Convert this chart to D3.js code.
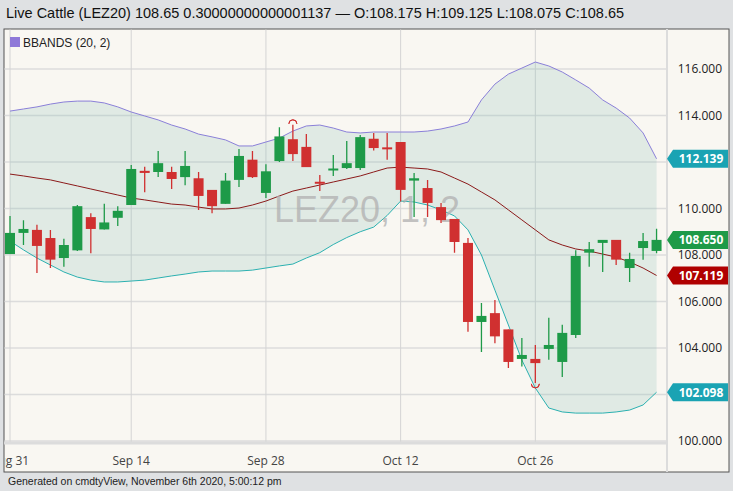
<!DOCTYPE html>
<html><head><meta charset="utf-8">
<script src="https://cdn.jsdelivr.net/npm/d3@7"></script>
<style>
body{margin:0;background:#dfe1e3;font-family:"Liberation Sans",Arial,sans-serif;}
</style></head><body>
<svg id="c" width="733" height="491"></svg>
<script>
var dates = ['2020-08-31','2020-09-01','2020-09-02','2020-09-03','2020-09-04','2020-09-08','2020-09-09','2020-09-10','2020-09-11',
  '2020-09-14','2020-09-15','2020-09-16','2020-09-17','2020-09-18','2020-09-21','2020-09-22','2020-09-23','2020-09-24','2020-09-25',
  '2020-09-28','2020-09-29','2020-09-30','2020-10-01','2020-10-02','2020-10-05','2020-10-06','2020-10-07','2020-10-08','2020-10-09',
  '2020-10-12','2020-10-13','2020-10-14','2020-10-15','2020-10-16','2020-10-19','2020-10-20','2020-10-21','2020-10-22','2020-10-23',
  '2020-10-26','2020-10-27','2020-10-28','2020-10-29','2020-10-30','2020-11-02','2020-11-03','2020-11-04','2020-11-05','2020-11-06'];
var open  = [108.04,108.95,109.08,108.73,107.87,108.2,109.63,109.1,109.6,110.15,111.62,111.57,111.57,111.35,111.3,110.8,110.2,111.23,112.1,110.67,112.04,112.98,112.65,111.15,111.65,111.74,111.74,113.0,112.63,112.86,111.2,110.88,110.06,109.55,108.52,105.12,105.5,104.8,103.53,103.53,103.96,103.4,104.56,108.1,108.52,108.65,107.44,108.3,108.175];
var high  = [109.68,109.5,109.3,109.08,108.7,110.15,109.8,110.2,110.1,111.87,111.8,112.47,111.8,112.47,111.57,110.8,111.53,112.56,112.47,111.9,113.5,113.6,113.2,111.44,112.3,112.9,113.16,113.25,113.25,112.86,111.53,111.23,110.24,109.55,108.73,105.94,106.06,104.8,104.43,104.13,105.3,105.0,108.2,108.56,108.65,108.65,108.1,108.95,109.125];
var low   = [108.04,108.43,107.23,107.44,107.5,108.17,108.08,109.1,109.25,110.15,110.7,111.35,110.84,111.0,109.94,109.8,110.2,110.92,111.31,110.45,112.0,112.04,111.78,110.75,111.4,111.7,111.66,112.5,112.1,110.3,109.63,109.63,109.38,108.1,104.7,103.83,104.2,103.14,103.2,102.5,103.5,102.75,104.43,107.5,107.27,107.57,106.84,107.8,108.075];
var close = [108.95,109.12,108.39,107.8,108.43,110.1,109.12,109.4,109.9,111.7,111.53,111.95,111.27,111.83,110.54,110.1,111.2,112.26,111.35,111.6,113.1,112.34,111.78,111.1,111.72,111.95,113.07,112.6,112.58,110.8,111.3,110.24,109.5,108.56,105.12,105.38,104.5,103.4,103.7,103.35,104.13,104.65,107.96,108.25,108.65,107.8,107.83,108.6,108.65];
var bbUpper = [114.19,114.28,114.37,114.49,114.58,114.62,114.62,114.54,114.37,114.15,113.98,113.81,113.59,113.42,113.2,113.08,112.95,112.69,112.69,112.86,113.03,113.33,113.55,113.59,113.46,113.29,113.25,113.29,113.29,113.29,113.29,113.33,113.42,113.55,113.72,114.67,115.35,115.78,116.04,116.3,116.13,115.87,115.53,115.18,114.67,114.32,113.89,113.25,112.139];
var bbMid = [111.48,111.4,111.31,111.23,111.1,110.97,110.84,110.71,110.58,110.45,110.37,110.28,110.19,110.15,110.06,109.98,109.98,110.02,110.15,110.32,110.54,110.75,110.88,111.01,111.14,111.27,111.4,111.57,111.74,111.78,111.74,111.7,111.57,111.31,111.05,110.71,110.37,109.94,109.51,109.08,108.65,108.43,108.26,108.17,108.04,107.91,107.7,107.44,107.119];
var bbLower = [108.6,108.22,107.87,107.57,107.27,107.05,106.92,106.84,106.84,106.88,106.92,107.01,107.1,107.18,107.27,107.31,107.31,107.31,107.35,107.44,107.53,107.61,107.87,108.1,108.45,108.75,109.0,109.2,109.7,110.32,110.28,110.15,109.94,109.68,109.08,108.0,106.49,104.99,103.48,102.28,101.42,101.25,101.2,101.2,101.2,101.25,101.33,101.55,102.098];
var yTicks = [100,102,104,106,108,110,112,114,116];
var xTickLabels = {'2020-08-31':'Aug 31','2020-09-14':'Sep 14','2020-09-28':'Sep 28','2020-10-12':'Oct 12','2020-10-26':'Oct 26'};

var svg = d3.select('#c');
var L = 4, R = 667, T = 29, B = 443;
var x = d3.scalePoint().domain(d3.range(dates.length)).range([10, 10 + 13.47*(dates.length-1)]);
var y = d3.scaleLinear().domain([100,116]).range([441,69]);

// title bar + footer
svg.append('rect').attr('width',733).attr('height',491).attr('fill','#dfe1e3');
svg.append('text').attr('x',6).attr('y',18).attr('font-size',14.5).attr('fill','#111')
  .text('Live Cattle (LEZ20) 108.65 0.30000000000001137 \u2014 O:108.175 H:109.125 L:108.075 C:108.65');
svg.append('rect').attr('x',L).attr('y',T).attr('width',725).attr('height',443).attr('fill','#f9f7f2').attr('stroke','#555');
svg.append('text').attr('x',8).attr('y',485).attr('font-size',10.5).attr('fill','#222')
  .text('Generated on cmdtyView, November 6th 2020, 5:00:12 pm');

svg.append('clipPath').attr('id','pc').append('rect').attr('x',L+0.5).attr('y',T+0.5).attr('width',R-L).attr('height',B-T);
var g = svg.append('g').attr('clip-path','url(#pc)');

// grid
g.selectAll('.hg').data(yTicks).enter().append('line')
  .attr('x1',L).attr('x2',R).attr('y1',d=>y(d)).attr('y2',d=>y(d)).attr('stroke','#dcdcdc').attr('stroke-width',1.5);
var tickIdx = dates.map((d,i)=>i).filter(i=>xTickLabels[dates[i]]);
g.selectAll('.vg').data(tickIdx).enter().append('line')
  .attr('x1',d=>x(d)).attr('x2',d=>x(d)).attr('y1',T).attr('y2',B).attr('stroke','#d4d4d4');
svg.append('line').attr('x1',L).attr('x2',R).attr('y1',B).attr('y2',B).attr('stroke','#dcdcdc').attr('stroke-width',3);
svg.append('line').attr('x1',R).attr('x2',R).attr('y1',T).attr('y2',472).attr('stroke','#dcdcdc').attr('stroke-width',2);

// bands
var idx = d3.range(dates.length);
g.append('path').datum(idx)
  .attr('d', d3.area().x(i=>x(i)).y0(i=>y(bbLower[i])).y1(i=>y(bbUpper[i])))
  .attr('fill','#7fb8b0').attr('fill-opacity',0.2);
g.append('path').datum(idx).attr('d', d3.line().x(i=>x(i)).y(i=>y(bbUpper[i]))).attr('fill','none').attr('stroke','#8a7fd8');
g.append('path').datum(idx).attr('d', d3.line().x(i=>x(i)).y(i=>y(bbLower[i]))).attr('fill','none').attr('stroke','#2bb0b0');
g.append('path').datum(idx).attr('d', d3.line().x(i=>x(i)).y(i=>y(bbMid[i]))).attr('fill','none').attr('stroke','#8b1a1a');

// watermark
g.append('text').attr('x',367).attr('y',222).attr('text-anchor','middle').attr('font-size',36).attr('fill','#b0b0b0').attr('fill-opacity',0.75)
  .text('LEZ20, 1, 2');

// candles
var green = '#1e9a48', red = '#d03030';
var cg = g.selectAll('.cd').data(idx).enter().append('g');
cg.append('line').attr('x1',i=>x(i)).attr('x2',i=>x(i)).attr('y1',i=>y(high[i])).attr('y2',i=>y(low[i]))
  .attr('stroke',i=>close[i]>=open[i]?green:red).attr('stroke-width',1.3);
cg.append('rect').attr('x',i=>x(i)-5).attr('width',10)
  .attr('y',i=>y(Math.max(open[i],close[i])))
  .attr('height',i=>Math.max(2,Math.abs(y(open[i])-y(close[i]))))
  .attr('fill',i=>close[i]>=open[i]?green:red);

// high/low markers
var hiI = d3.maxIndex(high), loI = d3.minIndex(low);
g.append('path').attr('d', d3.arc()({innerRadius:4,outerRadius:4,startAngle:-Math.PI/2,endAngle:Math.PI/2}))
  .attr('transform','translate('+x(hiI)+','+(y(high[hiI])-1)+')').attr('fill','none').attr('stroke',red);
g.append('path').attr('d', d3.arc()({innerRadius:4,outerRadius:4,startAngle:Math.PI/2,endAngle:Math.PI*1.5}))
  .attr('transform','translate('+x(loI)+','+(y(low[loI])+1)+')').attr('fill','none').attr('stroke',red);

// legend
svg.append('rect').attr('x',10).attr('y',37).attr('width',10).attr('height',10).attr('fill','#8f79d8');
svg.append('text').attr('x',23).attr('y',47).attr('font-size',12).attr('fill','#222').text('BBANDS (20, 2)');

// y axis labels (hidden where a price tag sits on top)
var last = dates.length-1;
var tags = [[bbUpper[last],'#1aa3b3'],[close[last],'#1e9a48'],[bbMid[last],'#b00000'],[bbLower[last],'#1aa3b3']];
svg.selectAll('.yl').data(yTicks.filter(d=>!tags.some(t=>Math.abs(y(t[0])-y(d))<6))).enter().append('text')
  .attr('x',722).attr('y',d=>y(d)+4).attr('text-anchor','end').attr('font-size',12).attr('fill','#222')
  .attr('font-family','"Open Sans",sans-serif').text(d=>d3.format('.3f')(d));

// x axis labels
svg.append('clipPath').attr('id','xc').append('rect').attr('x',L+1).attr('y',448).attr('width',R-L).attr('height',22);
svg.append('g').attr('clip-path','url(#xc)').selectAll('.xl').data(tickIdx).enter().append('text')
  .attr('x',d=>x(d)).attr('y',465).attr('text-anchor','middle').attr('font-size',12).attr('fill','#444')
  .attr('font-family','"Open Sans",sans-serif').text(d=>xTickLabels[dates[d]]);

// price tags
var tg = svg.selectAll('.tg').data(tags).enter().append('g').attr('transform',d=>'translate(667,'+y(d[0])+')');
tg.append('path').attr('d','M0,0 L6,-9 L61,-9 L61,9 L6,9 Z').attr('fill',d=>d[1]);
tg.append('text').attr('x',34).attr('y',4.5).attr('text-anchor','middle').attr('font-size',12).attr('font-weight','bold')
  .attr('fill','#fff').attr('font-family','"Open Sans",sans-serif').text(d=>d3.format('.3f')(d[0]));
</script></body></html>
